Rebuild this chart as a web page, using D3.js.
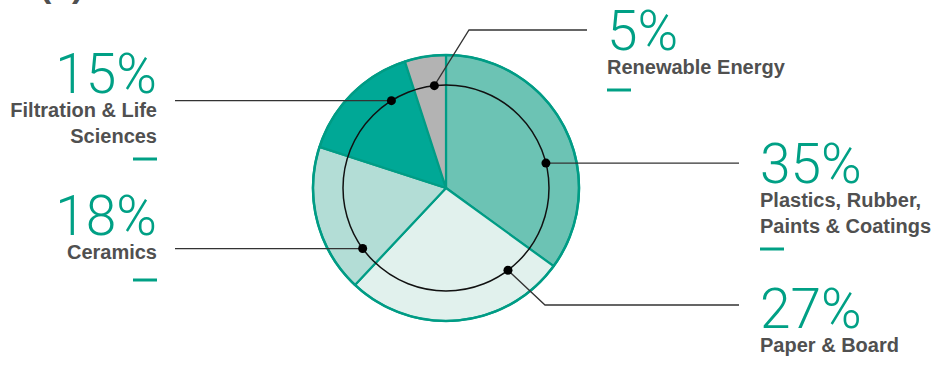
<!DOCTYPE html>
<html>
<head>
<meta charset="utf-8">
<script src="https://cdn.jsdelivr.net/npm/d3@7"></script>
<style>
	html, body { margin: 0; padding: 0; background: #fff; }
	svg { display: block; }
</style>
</head>
<body>
<svg class="chart"></svg>
<script>
// values, clockwise from 12 o'clock
const categories = ["Plastics, Rubber, Paints & Coatings", "Paper & Board", "Ceramics", "Filtration & Life Sciences", "Renewable Energy"];
const shares = [35, 27, 18, 15, 5];
const labelLines = [
	["Plastics, Rubber,", "Paints & Coatings"],
	["Paper & Board"],
	["Ceramics"],
	["Filtration & Life", "Sciences"],
	["Renewable Energy"]
];
const sliceColors = ["#6cc3b4", "#e1f1ed", "#b3ddd6", "#00a896", "#b3b3b3"];

var width = 937,
	height = 365,
	cx = 446,
	cy = 188,
	outerR = 133,
	innerR = 103,
	teal = "#00a085",
	grey = "#505050";

// where each callout sits (dot angle on the inner ring, leader path, text block)
var callouts = [
	{ dotDeg: 76, side: "right", elbow: null, lineEnd: 739, tx: 760, ty: 183, dashGap: 16 },
	{ dotDeg: 143, side: "right", elbow: [545, 305], lineEnd: 739, tx: 760, ty: 328, dashGap: 16 },
	{ dotDeg: 234, side: "left", elbow: null, lineEnd: 175, tx: 157, ty: 235, dashGap: 21 },
	{ dotDeg: 328, side: "left", elbow: null, lineEnd: 175, tx: 157, ty: 93, dashGap: 16 },
	{ dotDeg: 353.5, side: "right", elbow: [469, 30], lineEnd: 587, tx: 607, ty: 50, dashGap: 16 }
];

var svg = d3.select(".chart")
	.attr("width", width)
	.attr("height", height);

// panel letter, mostly cut off by the top edge
svg.append("text")
	.attr("x", 40)
	.attr("y", -3)
	.attr("font-family", "'Liberation Sans', Arial, sans-serif")
	.attr("font-weight", 700)
	.attr("font-size", 34)
	.attr("fill", grey)
	.text("(b)");

var data = categories.map(function (c, i) {
	return { name: c, value: shares[i], color: sliceColors[i], lines: labelLines[i], layout: callouts[i] };
});

var pie = d3.pie()
	.sort(null)
	.value(function (d) { return d.value; });

var arc = d3.arc()
	.innerRadius(0)
	.outerRadius(outerR);

var g = svg.append("g")
	.attr("transform", "translate(" + cx + "," + cy + ")");

g.selectAll("path.slice")
	.data(pie(data))
	.enter().append("path")
	.attr("class", "slice")
	.attr("d", arc)
	.attr("fill", function (d) { return d.data.color; })
	.attr("stroke", "#009c85")
	.attr("stroke-width", 2.2)
	.attr("stroke-linejoin", "round");

g.append("circle")
	.attr("r", outerR)
	.attr("fill", "none")
	.attr("stroke", "#009c85")
	.attr("stroke-width", 2.5);

g.append("circle")
	.attr("r", innerR)
	.attr("fill", "none")
	.attr("stroke", "#111")
	.attr("stroke-width", 1.5);

function dotPos(deg) {
	var a = deg * Math.PI / 180;
	return [cx + innerR * Math.sin(a), cy - innerR * Math.cos(a)];
}

var leaders = svg.append("g").attr("class", "leaders");

data.forEach(function (d) {
	var p = dotPos(d.layout.dotDeg);
	var pts = [p];
	if (d.layout.elbow) {
		pts.push(d.layout.elbow);
		pts.push([d.layout.lineEnd, d.layout.elbow[1]]);
	} else {
		pts.push([d.layout.lineEnd, p[1]]);
	}
	leaders.append("path")
		.attr("d", d3.line()(pts))
		.attr("fill", "none")
		.attr("stroke", "#333")
		.attr("stroke-width", 1.3);
	leaders.append("circle")
		.attr("cx", p[0])
		.attr("cy", p[1])
		.attr("r", 4.5)
		.attr("fill", "#000");
});

var labels = svg.append("g").attr("class", "labels");

data.forEach(function (d) {
	var anchor = d.layout.side === "left" ? "end" : "start";
	var t = labels.append("g");
	t.append("text")
		.attr("x", d.layout.tx)
		.attr("y", d.layout.ty)
		.attr("text-anchor", anchor)
		.attr("font-family", "Roboto, sans-serif")
		.attr("font-weight", 300)
		.attr("font-size", 55)
		.attr("fill", teal)
		.text(d.value + "%");
	d.lines.forEach(function (line, j) {
		t.append("text")
			.attr("x", d.layout.tx)
			.attr("y", d.layout.ty + 24 + j * 26)
			.attr("text-anchor", anchor)
			.attr("font-family", "'Liberation Sans', Arial, sans-serif")
			.attr("font-weight", 700)
			.attr("font-size", 20)
			.attr("fill", grey)
			.text(line);
	});
	var dashY = d.layout.ty + 24 + (d.lines.length - 1) * 26 + d.layout.dashGap;
	var x0 = d.layout.side === "left" ? d.layout.tx - 24 : d.layout.tx;
	t.append("line")
		.attr("x1", x0)
		.attr("x2", x0 + 24)
		.attr("y1", dashY)
		.attr("y2", dashY)
		.attr("stroke", teal)
		.attr("stroke-width", 3);
});
</script>
</body>
</html>
